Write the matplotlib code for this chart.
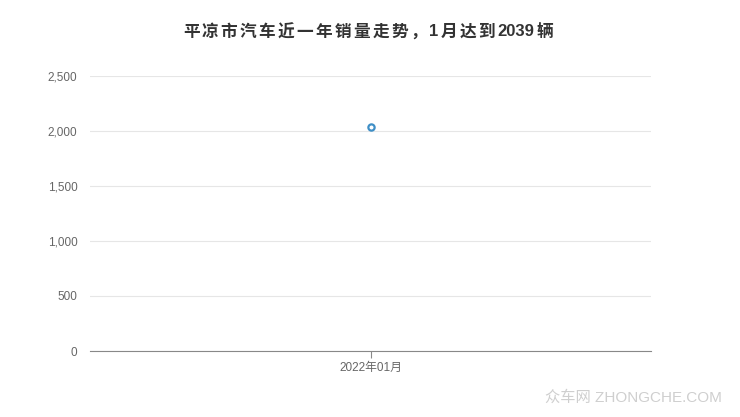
import re
import matplotlib
matplotlib.use('Agg')
import matplotlib.pyplot as plt

plt.rcParams['font.family'] = ['Liberation Sans', 'Noto Sans CJK SC', 'DejaVu Sans']

months = ['2022年01月']
sales = [2039]
yticks = [0, 500, 1000, 1500, 2000, 2500]
title = '平凉市汽车近一年销量走势，1月达到2039辆'

fig = plt.figure(figsize=(7.4, 4.17), dpi=100)
ax = fig.add_axes([90/740, 66/417, 561/740, 275/417])

ax.plot(range(len(months)), sales, 'o', ms=4.5, mfc='white', mec='#3f8fc6', mew=1.6)
ax.set_xlim(-0.5, len(months) - 0.5)
ax.set_ylim(0, 2500)
ax.set_yticks(yticks)
ax.set_yticklabels(['{:,}'.format(v) for v in yticks])
ax.set_xticks(range(len(months)))
ax.set_xticklabels(months)

ax.grid(axis='y', color='#e6e6e6', lw=0.8)
ax.set_axisbelow(True)
for s in ['top', 'right', 'left']:
    ax.spines[s].set_visible(False)
ax.spines['bottom'].set_color('#888888')
ax.tick_params(axis='y', length=0, pad=9, labelsize=8.5, labelcolor='#666666')
ax.tick_params(axis='x', length=5, color='#888888', labelsize=8.5, labelcolor='#666666', pad=3)

# title with letter spacing between CJK chars, digit runs kept together
renderer = fig.canvas.get_renderer()
gap = 2.3
tokens = re.findall(r'\d+|.', title)
pieces = []
total = 0
for tok in tokens:
    t = fig.text(0, 0, tok, fontsize=12, fontweight='bold', color='#333333', va='center')
    w = t.get_window_extent(renderer).width
    pieces.append((t, w))
    total += w
total += gap * (len(tokens) - 1)
x = (740 - total) / 2 - 2
for t, w in pieces:
    t.set_position((x / 740, 1 - 32/417))
    x += w + gap

fig.text(722/740, 1 - 398/417, '众车网 ZHONGCHE.COM', ha='right', va='center',
         fontsize=11, color='#cfcfcf')

fig.savefig('out.png', dpi=100)
